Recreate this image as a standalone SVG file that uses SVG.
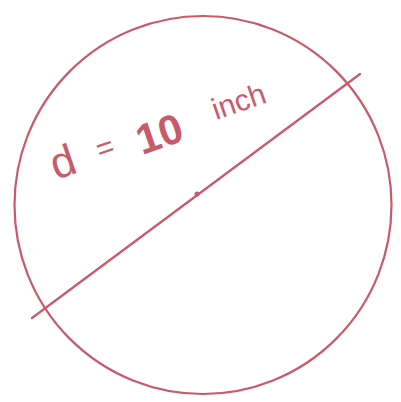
<svg xmlns="http://www.w3.org/2000/svg" width="401" height="402" viewBox="0 0 401 402">
<style>
.ink{fill:none;stroke:#c85a6c;stroke-width:2.2;stroke-linecap:round}
.lbl{fill:#c85a6c;font-family:"Liberation Sans",Arial,sans-serif}
</style>
<rect width="401" height="402" fill="#ffffff"/>
<g id="circle">
<ellipse class="ink" cx="203" cy="205" rx="188.5" ry="189"/>
</g>
<g id="connectors">
<line class="ink" x1="32" y1="318" x2="360" y2="74"/>
<circle cx="197" cy="194" r="2.5" fill="#c85a6c"/>
</g>
<g id="label">
<text class="lbl" transform="translate(56,180) rotate(-19)" font-size="44">d</text>
<text class="lbl" transform="translate(100,160) rotate(-19)" font-size="30">=</text>
<text class="lbl" transform="translate(142,155) rotate(-19)" font-size="42" font-weight="bold">10</text>
<text class="lbl" transform="translate(216,120) rotate(-19)" font-size="30">inch</text>
</g>
</svg>
